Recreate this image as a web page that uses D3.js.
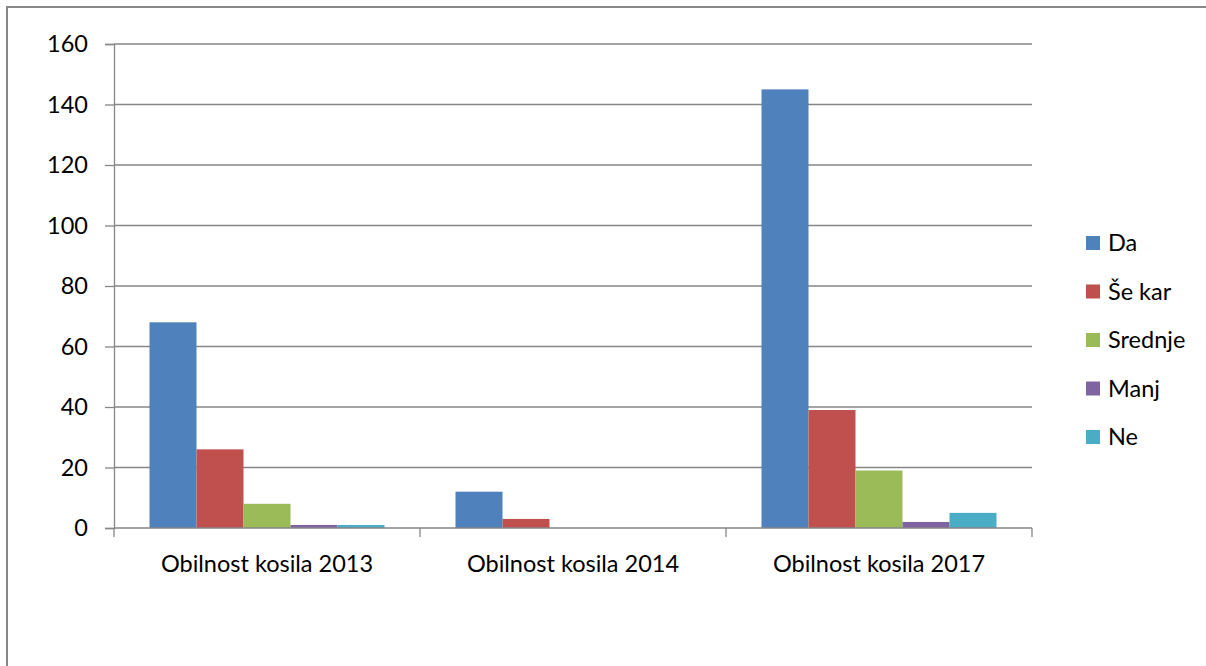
<!DOCTYPE html>
<html>
<head>
<meta charset="utf-8">
<script src="https://cdn.jsdelivr.net/npm/d3@7/dist/d3.min.js"></script>
<style>
  html, body { margin: 0; padding: 0; background: #fff; }
  svg { display: block; font-family: Lato, "Open Sans", sans-serif; }
</style>
</head>
<body>
<script>
// chart data
var categories = ["Obilnost kosila 2013", "Obilnost kosila 2014", "Obilnost kosila 2017"];
var seriesNames = ["Da", "Še kar", "Srednje", "Manj", "Ne"];
var seriesColors = ["#4F81BD", "#C0504D", "#9BBB59", "#8064A2", "#4BACC6"];
var valDa = [68, 12, 145];
var valSeKar = [26, 3, 39];
var valSrednje = [8, 0, 19];
var valManj = [1, 0, 2];
var valNe = [1, 0, 5];
var yTicks = [0, 20, 40, 60, 80, 100, 120, 140, 160];

var seriesValues = [valDa, valSeKar, valSrednje, valManj, valNe];

var W = 1206, H = 666;
var svg = d3.select("body").append("svg").attr("width", W).attr("height", H);

// outer chart frame (runs off the right and bottom edge)
svg.append("rect")
    .attr("x", 7).attr("y", 7)
    .attr("width", W + 10).attr("height", H + 10)
    .attr("fill", "none")
    .attr("stroke", "#878787")
    .attr("stroke-width", 2);

var plotL = 114, plotR = 1032, plotT = 44, plotB = 528;
var FS = 23.5;

var y = d3.scaleLinear().domain([0, 160]).range([plotB, plotT]);
var x0 = d3.scaleBand().domain(categories).range([plotL, plotR]);
var x1 = d3.scaleBand().domain(seriesNames)
    .range([35.5, x0.bandwidth() - 35.5]);

// gridlines
svg.append("g").selectAll("line")
    .data(yTicks.filter(function(d) { return d > 0; }))
    .enter().append("line")
      .attr("x1", plotL).attr("x2", plotR)
      .attr("y1", function(d) { return y(d); })
      .attr("y2", function(d) { return y(d); })
      .attr("stroke", "#868686").attr("stroke-width", 1.3);

// y axis
var yAxis = d3.axisLeft(y).tickValues(yTicks).tickSize(9).tickPadding(17);
var gy = svg.append("g").attr("transform", "translate(" + plotL + ",0)").call(yAxis);
gy.select(".domain").attr("stroke", "#868686").attr("stroke-width", 1.3);
gy.selectAll(".tick line").attr("stroke", "#868686").attr("stroke-width", 1.3);
gy.selectAll("text").attr("font-size", FS).attr("fill", "#000")
    .attr("font-family", "Lato, sans-serif");

// bars
var groups = svg.append("g").selectAll("g")
    .data(categories)
    .enter().append("g")
      .attr("transform", function(d) { return "translate(" + x0(d) + ",0)"; });

groups.selectAll("rect")
    .data(function(d, i) {
      return seriesNames.map(function(s, j) { return { s: s, v: seriesValues[j][i], c: seriesColors[j] }; });
    })
    .enter().append("rect")
      .attr("x", function(d) { return x1(d.s); })
      .attr("width", x1.bandwidth())
      .attr("y", function(d) { return y(d.v); })
      .attr("height", function(d) { return plotB - y(d.v); })
      .attr("fill", function(d) { return d.c; });

// x axis
var xAxis = d3.axisBottom(x0).tickSize(0).tickPadding(27);
var gx = svg.append("g").attr("transform", "translate(0," + plotB + ")").call(xAxis);
gx.select(".domain").remove();
gx.selectAll("text").attr("font-size", FS).attr("fill", "#000")
    .attr("font-family", "Lato, sans-serif");
svg.append("line")
    .attr("x1", plotL).attr("x2", plotR).attr("y1", plotB).attr("y2", plotB)
    .attr("stroke", "#868686").attr("stroke-width", 1.3);
var bounds = categories.map(function(c) { return x0(c); }).concat([plotR]);
svg.append("g").selectAll("line")
    .data(bounds)
    .enter().append("line")
      .attr("x1", function(d) { return d; }).attr("x2", function(d) { return d; })
      .attr("y1", plotB).attr("y2", plotB + 9)
      .attr("stroke", "#868686").attr("stroke-width", 1.3);

// legend
var legend = svg.append("g").attr("transform", "translate(1086,236)");
var items = legend.selectAll("g")
    .data(seriesNames)
    .enter().append("g")
      .attr("transform", function(d, i) { return "translate(0," + (i * 48.5) + ")"; });
items.append("rect")
    .attr("width", 14).attr("height", 14)
    .attr("fill", function(d, i) { return seriesColors[i]; });
items.append("text")
    .attr("x", 22).attr("y", 7).attr("dy", "0.36em")
    .attr("font-size", FS).attr("fill", "#000")
    .text(function(d) { return d; });
</script>
</body>
</html>
